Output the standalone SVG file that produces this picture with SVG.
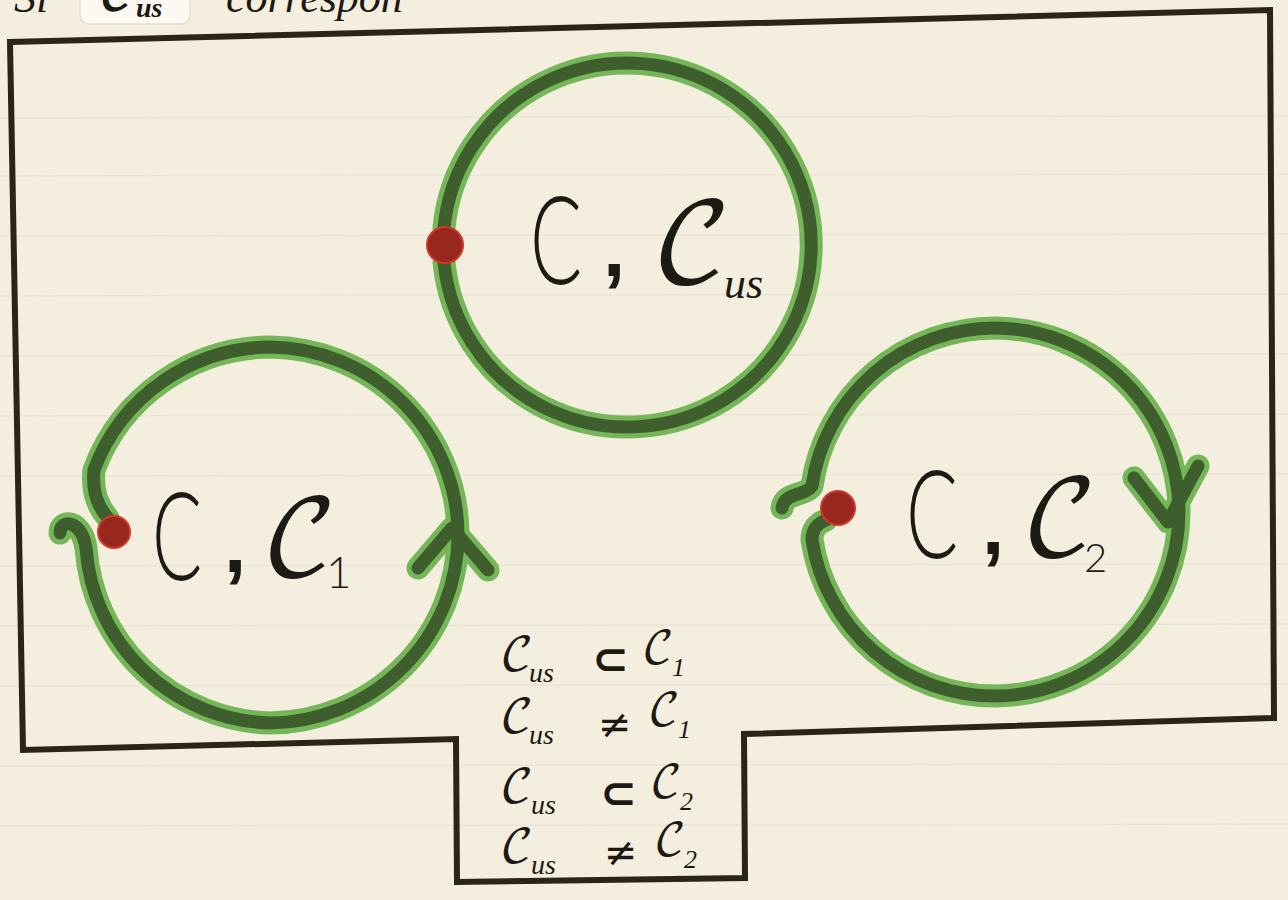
<svg xmlns="http://www.w3.org/2000/svg" width="1288" height="900" viewBox="0 0 1288 900">
  <defs>
    <style>
      .paper { fill: #f4eedf; }
      .rule { stroke: #ece4d6; stroke-width: 1.5; }
      .outline { fill: none; stroke: #2b2515; stroke-width: 6; stroke-linejoin: miter; stroke-linecap: square; }
      .g-out { fill: none; stroke: #74b658; stroke-width: 23; stroke-linecap: round; stroke-linejoin: round; }
      .g-in { fill: none; stroke: #3e5f2d; stroke-width: 13; stroke-linecap: round; stroke-linejoin: round; }
      .dot { fill: #97271f; stroke: #d2382a; stroke-width: 2; }
      .plain { font-family: "Lato", "Liberation Sans", "DejaVu Sans", sans-serif; font-weight: 300; fill: #1c1a12; }
      .comma { font-family: "Liberation Sans", "DejaVu Sans", sans-serif; font-weight: bold; fill: #1c1a12; }
      .script { font-family: "DejaVu Math TeX Gyre", "DejaVu Sans", "DejaVu Serif", "Noto Sans", serif; fill: #1c1a12; }
      .hand { font-family: "Liberation Serif", "DejaVu Serif", serif; font-style: italic; fill: #1c1a12; }
      .sym { font-family: "DejaVu Sans", "Liberation Sans", sans-serif; fill: #1c1a12; }
    </style>
  </defs>

  <rect class="paper" x="0" y="0" width="1288" height="900"/>
  <g id="ruling">
    <line class="rule" x1="0" y1="118" x2="1288" y2="116"/>
    <line class="rule" x1="0" y1="176" x2="1288" y2="174"/>
    <line class="rule" x1="0" y1="236" x2="1288" y2="234"/>
    <line class="rule" x1="0" y1="296" x2="1288" y2="294"/>
    <line class="rule" x1="0" y1="356" x2="1288" y2="354"/>
    <line class="rule" x1="0" y1="416" x2="1288" y2="414"/>
    <line class="rule" x1="0" y1="476" x2="1288" y2="474"/>
    <line class="rule" x1="0" y1="566" x2="1288" y2="564"/>
    <line class="rule" x1="0" y1="626" x2="1288" y2="624"/>
    <line class="rule" x1="0" y1="686" x2="1288" y2="684"/>
    <line class="rule" x1="0" y1="766" x2="1288" y2="764"/>
    <line class="rule" x1="0" y1="826" x2="1288" y2="824"/>
  </g>

  <!-- partial heading cut off at top edge, as in the source -->
  <g id="heading">
    <text class="hand" x="14" y="12" font-size="44">Si</text>
    <rect x="80" y="-12" width="110" height="36" rx="9" fill="#fbf9f2" stroke="#e6dfcf" stroke-width="1.5"/>
    <text class="script" x="100" y="10" font-size="44" font-weight="bold">𝒞</text>
    <text class="hand" x="136" y="17" font-size="28" font-weight="bold">us</text>
    <text class="hand" x="226" y="12" font-size="44">correspon</text>
  </g>

  <!-- outer frame -->
  <g id="frame">
    <path class="outline" d="M 10,42 L 1270,10 L 1274,718 L 744,734 L 745,878 L 457,882 L 456,739 L 23,750 Z"/>
  </g>

  <!-- top circle -->
  <g id="node-cus">
    <path class="g-out" d="M 444,262 A 184 182 0 1 0 444,228"/>
    <path class="g-in" d="M 444,262 A 184 182 0 1 0 444,228"/>
    <circle class="dot" cx="445" cy="245" r="18"/>
    <text class="plain" x="530" y="284" font-size="122" textLength="52" lengthAdjust="spacingAndGlyphs">C</text>
    <text class="comma" x="603" y="276" font-size="80">,</text>
    <text class="script" x="652" y="282" font-size="110">𝒞</text>
    <text class="hand" x="724" y="298" font-size="44">us</text>
  </g>

  <!-- left circle -->
  <g id="node-c1">
    <path class="g-out" d="M 60,533 C 60,518 82,520 86,548 A 190 188 0 0 0 270,723 A 190 188 0 0 0 458,535 A 190 188 0 0 0 270,347 A 190 188 0 0 0 94,470 C 92,490 96,505 108,518"/>
    <path class="g-out" d="M 418,568 L 452,528 L 488,570"/>
    <path class="g-in" d="M 60,533 C 60,518 82,520 86,548 A 190 188 0 0 0 270,723 A 190 188 0 0 0 458,535 A 190 188 0 0 0 270,347 A 190 188 0 0 0 94,470 C 92,490 96,505 108,518"/>
    <path class="g-in" d="M 418,568 L 452,528 L 488,570"/>
    <circle class="dot" cx="114" cy="532" r="16"/>
    <text class="plain" x="152" y="580" font-size="122" textLength="50" lengthAdjust="spacingAndGlyphs">C</text>
    <text class="comma" x="224" y="572" font-size="80">,</text>
    <text class="script" x="262" y="576" font-size="104">𝒞</text>
    <text class="plain" x="326" y="588" font-size="44" font-weight="400">1</text>
  </g>

  <!-- right circle -->
  <g id="node-c2">
    <path class="g-out" d="M 782,508 C 784,492 806,496 812,486 A 185 184 0 0 1 995,328 A 185 184 0 0 1 1179,512 A 185 184 0 0 1 995,696 A 185 184 0 0 1 812,540 C 812,530 816,524 826,520"/>
    <path class="g-out" d="M 1134,478 L 1168,522 L 1198,466"/>
    <path class="g-in" d="M 782,508 C 784,492 806,496 812,486 A 185 184 0 0 1 995,328 A 185 184 0 0 1 1179,512 A 185 184 0 0 1 995,696 A 185 184 0 0 1 812,540 C 812,530 816,524 826,520"/>
    <path class="g-in" d="M 1134,478 L 1168,522 L 1198,466"/>
    <circle class="dot" cx="838" cy="508" r="17"/>
    <text class="plain" x="906" y="558" font-size="122" textLength="52" lengthAdjust="spacingAndGlyphs">C</text>
    <text class="comma" x="982" y="554" font-size="80">,</text>
    <text class="script" x="1022" y="556" font-size="104">𝒞</text>
    <text class="plain" x="1084" y="572" font-size="40" font-weight="400">2</text>
  </g>

  <!-- relations -->
  <g id="relations">
    <text class="script" x="500" y="670" font-size="46">𝒞</text>
    <text class="hand" x="529" y="682" font-size="28">us</text>
    <text class="sym" x="592" y="674" font-size="44" font-weight="bold">⊂</text>
    <text class="script" x="642" y="664" font-size="44">𝒞</text>
    <text class="hand" x="672" y="676" font-size="26">1</text>

    <text class="script" x="500" y="732" font-size="46">𝒞</text>
    <text class="hand" x="529" y="744" font-size="28">us</text>
    <text class="sym" x="598" y="738" font-size="40">≠</text>
    <text class="script" x="648" y="726" font-size="44">𝒞</text>
    <text class="hand" x="678" y="738" font-size="26">1</text>

    <text class="script" x="500" y="802" font-size="46">𝒞</text>
    <text class="hand" x="531" y="814" font-size="28">us</text>
    <text class="sym" x="600" y="808" font-size="44" font-weight="bold">⊂</text>
    <text class="script" x="650" y="798" font-size="44">𝒞</text>
    <text class="hand" x="680" y="810" font-size="26">2</text>

    <text class="script" x="500" y="862" font-size="46">𝒞</text>
    <text class="hand" x="531" y="874" font-size="28">us</text>
    <text class="sym" x="604" y="866" font-size="40">≠</text>
    <text class="script" x="654" y="856" font-size="44">𝒞</text>
    <text class="hand" x="684" y="868" font-size="26">2</text>
  </g>
</svg>
